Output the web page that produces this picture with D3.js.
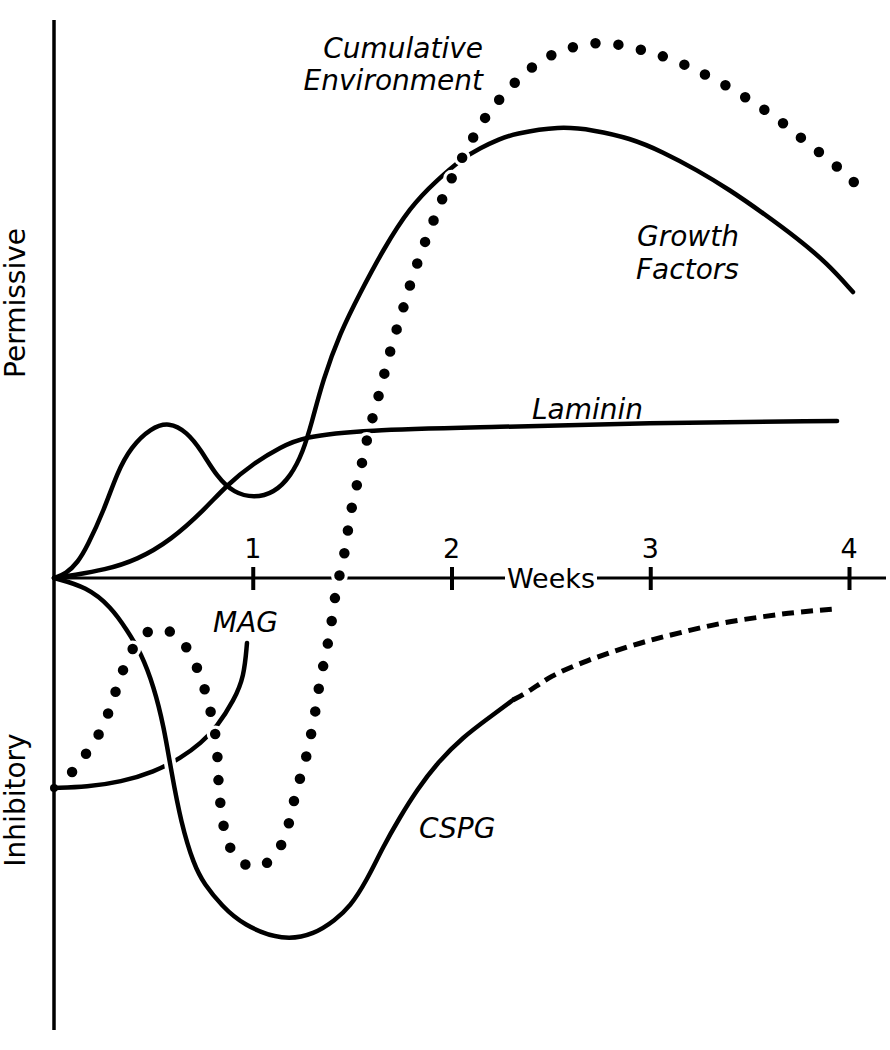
<!DOCTYPE html>
<html lang="en">
<head>
  <meta charset="UTF-8">
  <title>Permissive / Inhibitory environment over weeks</title>
  <style>
    body { margin: 0; background: #fff; }
    text { font-family: "DejaVu Sans", sans-serif; fill: #000; }
    .lbl { font-style: italic; font-size: 28px; }
    .curve { fill: none; stroke: #000; stroke-width: 4.5px; stroke-linecap: round; }
  </style>
  <script src="https://d3js.org/d3.v7.min.js"></script>
</head>
<body>
<svg id="chart" width="890" height="1050"></svg>
<script>
  // week values on the x axis
  var weekTicks = [1, 2, 3, 4];

  // series as [weeks, relative level] (positive = permissive, negative = inhibitory)
  var growthFactors = [
    [0, 0], [0.060, 0.04], [0.121, 0.16], [0.166, 0.31], [0.252, 0.68], [0.317, 1.05],
    [0.387, 1.31], [0.488, 1.50], [0.579, 1.56], [0.669, 1.46], [0.740, 1.28],
    [0.820, 1.01], [0.906, 0.85], [1.006, 0.80], [1.107, 0.85], [1.192, 1.02],
    [1.253, 1.26], [1.298, 1.56], [1.353, 1.98], [1.439, 2.45], [1.540, 2.85],
    [1.655, 3.28], [1.791, 3.71], [1.927, 3.98], [2.058, 4.20], [2.143, 4.30],
    [2.244, 4.39], [2.309, 4.44], [2.546, 4.52], [2.712, 4.48], [2.898, 4.40],
    [3.064, 4.26], [3.235, 4.08], [3.401, 3.88], [3.567, 3.65], [3.738, 3.40],
    [3.889, 3.15], [4.020, 2.86]
  ];

  var laminin = [
    [0, 0], [0.101, 0.03], [0.252, 0.08], [0.418, 0.18], [0.589, 0.38], [0.755, 0.68],
    [0.870, 0.93], [1.006, 1.15], [1.142, 1.31], [1.253, 1.41], [1.540, 1.48],
    [2.244, 1.51], [2.948, 1.55], [3.940, 1.57]
  ];

  var mag = [
    [0, -2.10], [0.166, -2.09], [0.337, -2.04], [0.503, -1.94], [0.639, -1.80],
    [0.740, -1.65], [0.820, -1.49], [0.906, -1.22], [0.956, -0.99], [0.971, -0.65]
  ];

  var cspg = [
    [0, 0], [0.166, -0.09], [0.287, -0.29], [0.367, -0.52], [0.438, -0.75],
    [0.503, -1.09], [0.553, -1.49], [0.589, -1.92], [0.639, -2.45], [0.704, -2.87],
    [0.755, -3.06], [0.845, -3.28], [0.951, -3.47], [1.152, -3.63], [1.313, -3.56],
    [1.414, -3.42], [1.489, -3.29], [1.575, -3.02], [1.655, -2.69], [1.741, -2.39],
    [1.826, -2.12], [1.927, -1.85], [2.058, -1.59], [2.194, -1.39], [2.309, -1.22]
  ];

  // projected part of CSPG (dashed)
  var cspgProjected = [
    [2.309, -1.22], [2.395, -1.13], [2.496, -0.98], [2.662, -0.84], [2.833, -0.72],
    [2.999, -0.62], [3.165, -0.54], [3.351, -0.45], [3.552, -0.39], [3.738, -0.34],
    [3.930, -0.31]
  ];

  var cumulative = [
    [0.091, -1.94], [0.166, -1.75], [0.236, -1.54], [0.282, -1.31], [0.317, -1.09],
    [0.357, -0.86], [0.413, -0.63], [0.498, -0.48], [0.614, -0.54], [0.684, -0.74],
    [0.735, -0.96], [0.770, -1.19], [0.800, -1.43], [0.820, -1.65], [0.825, -1.92],
    [0.830, -2.14], [0.845, -2.39], [0.865, -2.62], [0.921, -2.84], [1.031, -2.93],
    [1.122, -2.77], [1.172, -2.55], [1.197, -2.32], [1.223, -2.09], [1.263, -1.85],
    [1.288, -1.62], [1.313, -1.37], [1.328, -1.14], [1.353, -0.89], [1.379, -0.65],
    [1.399, -0.42], [1.414, -0.17], [1.439, 0.05], [1.464, 0.26], [1.479, 0.49],
    [1.504, 0.78], [1.535, 1.01], [1.560, 1.25], [1.585, 1.48], [1.620, 1.72],
    [1.650, 1.95], [1.681, 2.19], [1.711, 2.41], [1.751, 2.65], [1.781, 2.87],
    [1.821, 3.11], [1.862, 3.34], [1.907, 3.56], [1.952, 3.79], [2.003, 4.01],
    [2.058, 4.22], [2.118, 4.44], [2.179, 4.64], [2.259, 4.83], [2.340, 5.00],
    [2.435, 5.16], [2.541, 5.27], [2.662, 5.34], [2.777, 5.36], [2.903, 5.31],
    [3.014, 5.25], [3.135, 5.17], [3.240, 5.07], [3.351, 4.96], [3.462, 4.83],
    [3.562, 4.70], [3.663, 4.56], [3.753, 4.41], [3.849, 4.26], [3.945, 4.11],
    [4.035, 3.94]
  ];

  var svg = d3.select("#chart");

  var x = d3.scaleLinear().domain([0, 4]).range([54, 849]);
  var y = d3.scaleLinear().domain([-4.52, 5.58]).range([1030, 20]);

  var line = d3.line()
    .x(d => x(d[0]))
    .y(d => y(d[1]))
    .curve(d3.curveBasis);

  // y axis (plain vertical line)
  svg.append("line")
    .attr("x1", x(0)).attr("x2", x(0))
    .attr("y1", y(5.58)).attr("y2", y(-4.52))
    .attr("stroke", "#000").attr("stroke-width", 3.5);

  // x axis with ticks
  var xAxis = d3.axisBottom(x).tickValues(weekTicks).tickSize(0).tickFormat("");
  var gx = svg.append("g").attr("transform", "translate(0," + y(0) + ")").call(xAxis);
  gx.select(".domain").attr("d", "M" + x(0) + ",0H886").attr("stroke", "#000").attr("stroke-width", 3);
  gx.selectAll(".tick line").attr("y1", -11).attr("y2", 12).attr("stroke", "#000").attr("stroke-width", 4);

  svg.selectAll(".wlabel")
    .data(weekTicks)
    .join("text")
    .attr("class", "wlabel")
    .attr("x", d => x(d))
    .attr("y", y(0) - 20)
    .attr("text-anchor", "middle")
    .attr("font-size", 27)
    .text(d => d);

  // "Weeks" sits on the axis line
  svg.append("rect")
    .attr("x", 505).attr("y", y(0) - 12).attr("width", 92).attr("height", 26)
    .attr("fill", "#fff");
  svg.append("text")
    .attr("x", 551).attr("y", y(0) + 10)
    .attr("text-anchor", "middle")
    .attr("font-size", 27)
    .text("Weeks");

  // side labels
  svg.append("text")
    .attr("transform", "translate(25," + y(2.75) + ") rotate(-90)")
    .attr("text-anchor", "middle")
    .attr("font-size", 28)
    .text("Permissive");
  svg.append("text")
    .attr("transform", "translate(25," + y(-2.22) + ") rotate(-90)")
    .attr("text-anchor", "middle")
    .attr("font-size", 28)
    .text("Inhibitory");

  // curves
  svg.append("path").datum(laminin).attr("class", "curve").attr("d", line);
  svg.append("path").datum(mag).attr("class", "curve").attr("d", line);
  svg.append("circle").attr("cx", x(0)).attr("cy", y(mag[0][1])).attr("r", 4).attr("fill", "#000");
  svg.append("path").datum(growthFactors).attr("class", "curve").attr("d", line);

  // white gap where CSPG passes over MAG
  svg.append("path").datum(cspg.slice(4, 10))
    .attr("fill", "none").attr("stroke", "#fff").attr("stroke-width", 12)
    .attr("d", line);
  svg.append("path").datum(cspg).attr("class", "curve").attr("d", line);
  svg.append("path").datum(cspgProjected)
    .attr("fill", "none").attr("stroke", "#000").attr("stroke-width", 5)
    .attr("stroke-dasharray", "12,7")
    .attr("d", line);

  // cumulative environment: dotted, with white halo around each dot
  svg.append("path").datum(cumulative)
    .attr("fill", "none").attr("stroke", "#fff").attr("stroke-width", 17)
    .attr("stroke-linecap", "round").attr("stroke-dasharray", "0,23")
    .attr("d", line);
  svg.append("path").datum(cumulative)
    .attr("fill", "none").attr("stroke", "#000").attr("stroke-width", 10.5)
    .attr("stroke-linecap", "round").attr("stroke-dasharray", "0,23")
    .attr("d", line);

  // series labels
  svg.append("text").attr("class", "lbl").attr("x", 483).attr("y", 58).attr("text-anchor", "end").text("Cumulative");
  svg.append("text").attr("class", "lbl").attr("x", 483).attr("y", 90).attr("text-anchor", "end").text("Environment");
  svg.append("text").attr("class", "lbl").attr("x", 637).attr("y", 246).text("Growth");
  svg.append("text").attr("class", "lbl").attr("x", 636).attr("y", 279).text("Factors");
  svg.append("text").attr("class", "lbl").attr("x", 532).attr("y", 419).text("Laminin");
  svg.append("text").attr("class", "lbl").attr("x", 213).attr("y", 632).text("MAG");
  svg.append("text").attr("class", "lbl").attr("x", 419).attr("y", 838).text("CSPG");
</script>
</body>
</html>
